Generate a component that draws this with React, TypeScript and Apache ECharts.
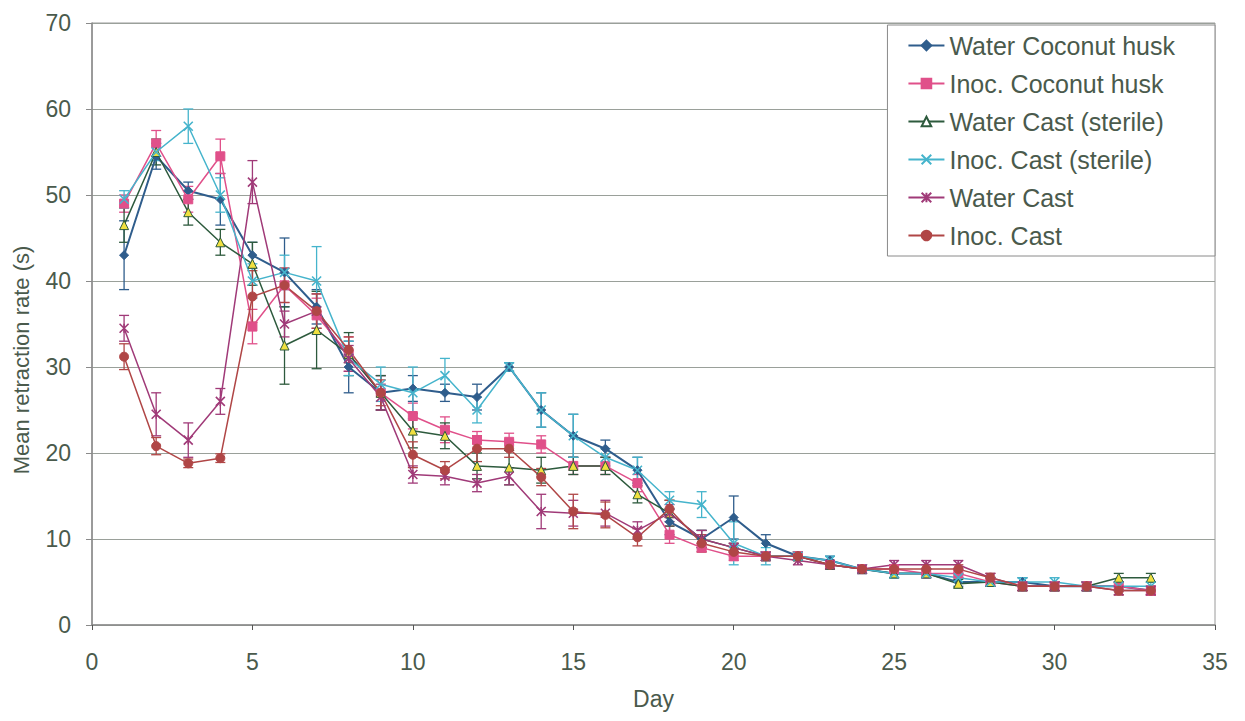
import React, { useEffect, useRef } from "react";
import * as echarts from "echarts";

const days = Array.from({ length: 33 }, (_, i) => i + 1);

const seriesNames = [
  "Water Coconut husk",
  "Inoc. Coconut husk",
  "Water Cast (sterile)",
  "Inoc. Cast (sterile)",
  "Water Cast",
  "Inoc. Cast",
];

const xAxisTitle = "Day";
const yAxisTitle = "Mean retraction rate (s)";

const waterCoconut = [43, 54.5, 50.5, 49.5, 43, 41, 37, 30, 27, 27.5, 27, 26.5, 30, 25, 22, 20.5, 18, 12, 10, 12.5, 9.5, 8, 7.5, 6.5, 6, 6, 5, 5, 5, 4.5, 4.5, 4.5, 4];
const inocCoconut = [49, 56, 49.5, 54.5, 34.7, 39.5, 36, 31.5, 27, 24.3, 22.7, 21.5, 21.3, 21, 18.5, 18.5, 16.5, 10.5, 9, 8, 8, 8, 7, 6.5, 6.5, 6, 6, 5, 4.5, 4.5, 4.5, 4.5, 4];
const waterCastSterile = [46.5, 55, 48, 44.5, 42, 32.5, 34.3, 31.5, 27, 22.6, 22, 18.5, 18.3, 18, 18.5, 18.5, 15.2, 13, 10, 9, 8, 8, 7, 6.5, 6, 6, 4.8, 5, 4.5, 4.5, 4.5, 5.5, 5.5];
const inocCastSterile = [49.5, 55, 58, 50, 40, 41, 40, 31, 28, 27, 29, 25, 30, 25, 22, 19.5, 18, 14.5, 14, 9.5, 8, 8, 7.5, 6.5, 6, 6, 5.5, 5, 5, 5, 4.5, 4.5, 4.5];
const waterCast = [34.5, 24.5, 21.5, 26, 51.5, 35, 36.5, 31, 26.5, 17.5, 17.3, 16.5, 17.3, 13.2, 13, 13, 11, 13, 10, 9, 8, 7.5, 7, 6.5, 7, 7, 7, 5.5, 4.5, 4.5, 4.5, 4, 4];
const inocCast = [31.2, 20.8, 18.8, 19.4, 38.2, 39.5, 36.5, 32, 27, 19.8, 18, 20.5, 20.5, 17.2, 13.2, 12.8, 10.2, 13.5, 9.5, 8.5, 8, 8, 7, 6.5, 6.5, 6.5, 6.5, 5.5, 4.5, 4.5, 4.5, 4, 4];

const errWaterCoconut = [4, 1.5, 1, 3, 1.5, 4, 2, 3, 2, 1.5, 1, 1.5, 0.5, 2, 2.5, 1, 1.5, 1.5, 1, 2.5, 1, 0.5, 0.5, 0.5, 0.5, 0.5, 0.5, 0.5, 0.5, 0.5, 0.5, 0.5, 0.5];
const errInocCoconut = [1, 1.5, 1.5, 2, 2, 2, 2, 2, 2, 1.5, 1.5, 1, 1, 1, 1, 1, 1, 1, 0.5, 0.5, 0.5, 0.5, 0.5, 0.5, 0.5, 0.5, 0.5, 0.5, 0.5, 0.5, 0.5, 0.5, 0.5];
const errWaterCastSterile = [2, 1.5, 1.5, 1.5, 2.5, 4.5, 4.5, 2.5, 2, 2, 1.5, 1.5, 2, 1.5, 1, 1, 1, 1.5, 1, 0.5, 0.5, 0.5, 0.5, 0.5, 0.5, 0.5, 0.5, 0.5, 0.5, 0.5, 0.5, 0.5, 0.5];
const errInocCastSterile = [1, 1, 2, 2, 2, 2, 4, 2, 2, 3, 2, 1.5, 0.5, 2, 2.5, 1, 1.5, 1, 1.5, 2.5, 1, 0.5, 0.5, 0.5, 0.5, 0.5, 0.5, 0.5, 0.5, 0.5, 0.5, 0.5, 0.5];
const errWaterCast = [1.5, 2.5, 2, 1.5, 2.5, 1.5, 2, 1.5, 1.5, 1, 1, 1, 1, 2, 1.5, 1.5, 1, 1, 1, 0.5, 0.5, 0.5, 0.5, 0.5, 0.5, 0.5, 0.5, 0.5, 0.5, 0.5, 0.5, 0.5, 0.5];
const errInocCast = [1.5, 1, 0.5, 0.5, 3, 2, 2, 1.5, 1.5, 1.5, 1, 1.5, 1, 1, 2, 1.5, 1, 1, 1, 0.5, 0.5, 0.5, 0.5, 0.5, 0.5, 0.5, 0.5, 0.5, 0.5, 0.5, 0.5, 0.5, 0.5];

const values = [waterCoconut, inocCoconut, waterCastSterile, inocCastSterile, waterCast, inocCast];
const errors = [errWaterCoconut, errInocCoconut, errWaterCastSterile, errInocCastSterile, errWaterCast, errInocCast];
const colors = ["#2f5d8c", "#e0508a", "#2d5a3d", "#45b4cc", "#a03a78", "#b04646"];
const symbols = [
  "diamond",
  "rect",
  "triangle",
  "path://M0,0L10,10M10,0L0,10",
  "path://M0,0L10,10M10,0L0,10M5,0L5,10",
  "circle",
];
const symbolFills = ["#2f5d8c", "#e0508a", "#f0e040", "#45b4cc", "#a03a78", "#b04646"];
const legendFills = ["#2f5d8c", "#e0508a", "#ffffff", "#45b4cc", "#a03a78", "#b04646"];

const FONT = "'Liberation Sans', Arial, sans-serif";
const TEXT_COLOR = "#4a5a4c";

export default function App() {
  const ref = useRef<HTMLDivElement>(null);
  useEffect(() => {
    if (!ref.current) return;
    const chart = echarts.init(ref.current, undefined, { renderer: "svg" });

    const lineSeries: any[] = seriesNames.map((name, i) => ({
      name,
      type: "line",
      data: days.map((d, k) => [d, values[i][k]]),
      symbol: symbols[i],
      symbolSize: 9,
      lineStyle: { color: colors[i], width: i === 0 ? 2 : 1.5 },
      itemStyle: {
        color: symbolFills[i],
        borderColor: colors[i],
        borderWidth: i >= 3 && i <= 4 ? 1.6 : 1,
      },
      z: 3,
    }));

    const errSeries: any[] = seriesNames.map((name, i) => ({
      name: name + " err",
      type: "custom",
      data: days.map((d, k) => [d, values[i][k] - errors[i][k], values[i][k] + errors[i][k]]),
      renderItem: (params: any, api: any) => {
        const x = api.value(0);
        const lo = api.coord([x, api.value(1)]);
        const hi = api.coord([x, api.value(2)]);
        const w = 5;
        const style = { stroke: colors[i], lineWidth: 1.3 };
        return {
          type: "group",
          children: [
            { type: "line", shape: { x1: lo[0], y1: lo[1], x2: hi[0], y2: hi[1] }, style },
            { type: "line", shape: { x1: lo[0] - w, y1: lo[1], x2: lo[0] + w, y2: lo[1] }, style },
            { type: "line", shape: { x1: hi[0] - w, y1: hi[1], x2: hi[0] + w, y2: hi[1] }, style },
          ],
        };
      },
      z: 2,
      silent: true,
    }));

    chart.setOption({
      animation: false,
      backgroundColor: "#ffffff",
      grid: {
        left: 92,
        right: 30,
        top: 23,
        bottom: 96,
        show: true,
        borderColor: "#9a9a9a",
        borderWidth: 1,
      },
      graphic: [
        {
          type: "text",
          x: 21,
          y: 360,
          rotation: Math.PI / 2,
          style: {
            text: yAxisTitle,
            fontFamily: FONT,
            fontSize: 22,
            fill: TEXT_COLOR,
            align: "center",
            verticalAlign: "middle",
          },
        },
      ],
      legend: {
        orient: "vertical",
        right: 30,
        top: 25,
        data: seriesNames.map((n, i) => ({ name: n, itemStyle: { color: legendFills[i] } })),
        itemWidth: 36,
        itemHeight: 12,
        itemGap: 13,
        padding: [8, 40, 8, 20],
        backgroundColor: "#ffffff",
        borderColor: "#8a8a8a",
        borderWidth: 1,
        borderRadius: 0,
        textStyle: { fontFamily: FONT, fontSize: 25, color: TEXT_COLOR },
      },
      xAxis: {
        type: "value",
        min: 0,
        max: 35,
        interval: 5,
        name: xAxisTitle,
        nameLocation: "middle",
        nameGap: 62,
        nameTextStyle: { fontFamily: FONT, fontSize: 23, color: TEXT_COLOR },
        axisLine: { show: true, lineStyle: { color: "#8a8a8a", width: 1.5 } },
        axisTick: { show: true, length: 5, lineStyle: { color: "#555" } },
        axisLabel: { fontFamily: FONT, fontSize: 23, color: TEXT_COLOR, margin: 25 },
        splitLine: { show: false },
      },
      yAxis: {
        type: "value",
        min: 0,
        max: 70,
        interval: 10,
        axisLine: { show: true, lineStyle: { color: "#8a8a8a", width: 1.5 } },
        axisTick: { show: true, length: 6, lineStyle: { color: "#8a8a8a" } },
        axisLabel: { fontFamily: FONT, fontSize: 23, color: TEXT_COLOR, margin: 21 },
        splitLine: { show: true, lineStyle: { color: "#9aa09a", width: 1.2 } },
      },
      series: [...errSeries, ...lineSeries],
    });
    return () => chart.dispose();
  }, []);
  return <div ref={ref} style={{ width: 1245, height: 721, margin: -8 }} />;
}
